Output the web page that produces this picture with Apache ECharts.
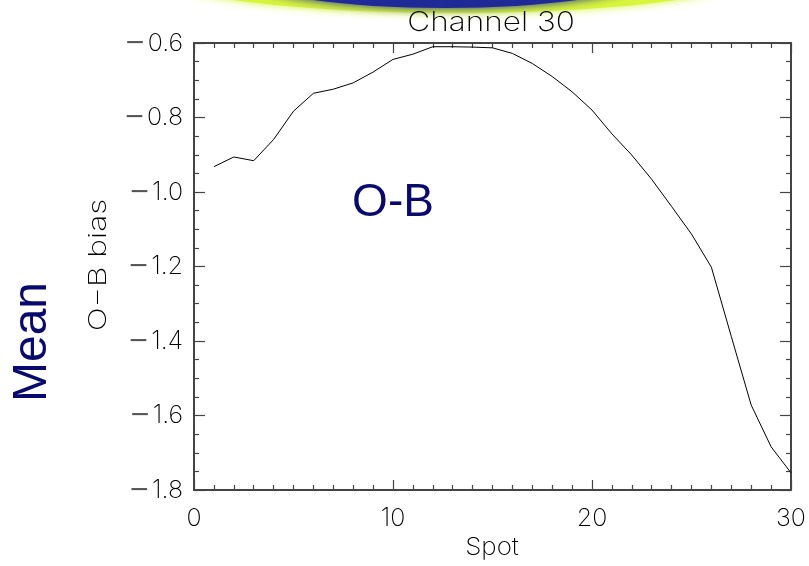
<!DOCTYPE html>
<html>
<head>
<meta charset="utf-8">
<script src="https://cdn.jsdelivr.net/npm/echarts@6/dist/echarts.min.js"></script>
<style>
html,body{margin:0;padding:0;background:#fff;}
#c{width:809px;height:566px;}
</style>
</head>
<body>
<div id="c"></div>
<script>
// Data
const spots = [1,2,3,4,5,6,7,8,9,10,11,12,13,14,15,16,17,18,19,20,21,22,23,24,25,26,27,28,29,30];
const meanBias = [-0.932,-0.906,-0.916,-0.859,-0.783,-0.735,-0.724,-0.707,-0.678,-0.644,-0.630,-0.610,-0.610,-0.611,-0.613,-0.628,-0.655,-0.690,-0.731,-0.780,-0.844,-0.901,-0.966,-1.039,-1.113,-1.202,-1.388,-1.572,-1.684,-1.754];
const yTicks = [-1.8,-1.6,-1.4,-1.2,-1.0,-0.8,-0.6];
const xTicks = [0,10,20,30];
const titleText = 'Channel 30';
const xName = 'Spot';
const yName = 'O\u2212B bias';

const chart = echarts.init(document.getElementById('c'), null, {renderer:'canvas'});
const thinFont = 'Inter';
const thinW = 200;
const axisCol = '#444';
const tickStyle = {color:axisCol, width:1.2};

function fmtY(v){ const s = Math.abs(v).toFixed(1); return (v<0?'{m|\u2212}':'')+'{n|'+s+'}'; }

const baseX = {
  type:'value', min:0, max:30, interval:10,
  axisLine:{show:true, onZero:false, lineStyle:{color:axisCol, width:2}},
  axisTick:{show:true, inside:true, length:10, lineStyle:tickStyle},
  minorTick:{show:true, splitNumber:10, length:5, lineStyle:tickStyle},
  splitLine:{show:false}
};
const baseY = {
  type:'value', min:-1.8, max:-0.6, interval:0.2,
  axisLine:{show:true, onZero:false, lineStyle:{color:axisCol, width:2}},
  axisTick:{show:true, inside:true, length:11, lineStyle:tickStyle},
  minorTick:{show:true, splitNumber:4, length:5, lineStyle:tickStyle},
  splitLine:{show:false}
};

const option = {
  backgroundColor:'#fff',
  animation:false,
  grid:{left:194, right:18, top:43, bottom:76, containLabel:false},
  xAxis:[
    Object.assign({}, baseX, {position:'bottom',
      axisLabel:{show:true, margin:16, color:'#000', fontFamily:thinFont, fontWeight:thinW, fontSize:25,
        formatter:v=> xTicks.includes(v)? String(v):''}}),
    Object.assign({}, baseX, {position:'top', axisLabel:{show:false}})
  ],
  yAxis:[
    Object.assign({}, baseY, {position:'left',
      axisLabel:{show:true, margin:11, color:'#000', fontFamily:thinFont, fontWeight:thinW, fontSize:25,
        formatter:v=>fmtY(v),
        rich:{
          m:{fontFamily:'DejaVu Sans', fontSize:25, color:'#555', fontWeight:'normal', padding:[0,2,0,0]},
          n:{fontFamily:thinFont, fontSize:25, fontWeight:thinW, color:'#000'}
        }}}),
    Object.assign({}, baseY, {position:'right', axisLabel:{show:false}})
  ],
  series:[{
    type:'line', xAxisIndex:0, yAxisIndex:0,
    data: spots.map((s,i)=>[s, meanBias[i]]),
    symbol:'none', lineStyle:{color:'#000', width:1}
  }],
  graphic:[
    {type:'ellipse', z:-1, shape:{cx:455, cy:-27, rx:300, ry:40},
      style:{fill:'#d8f53c', shadowBlur:8, shadowColor:'#d8f53c'}},
    {type:'ellipse', z:-1, shape:{cx:445, cy:-30, rx:215, ry:38},
      style:{fill:'#1f2a96', shadowBlur:10, shadowColor:'#1f2a96'}},
    {type:'text', x:491, y:23, scaleX:1.17, style:{text:titleText, fill:'#000', font:'200 27px "Inter"', align:'center', verticalAlign:'middle'}},
    {type:'text', x:492, y:548, scaleX:1.08, style:{text:xName, fill:'#000', font:'200 24px "Inter"', align:'center', verticalAlign:'middle'}},
    {type:'text', x:99, y:265, rotation:Math.PI/2, scaleX:1.32, style:{text:yName, fill:'#000', font:'200 24px "Inter"', align:'center', verticalAlign:'middle'}},
    {type:'text', x:33, y:342, rotation:Math.PI/2, style:{text:'Mean', fill:'#0a0a6e', font:'48px "Liberation Sans"', align:'center', verticalAlign:'middle'}},
    {type:'text', x:393, y:203, style:{text:'O-B', fill:'#0a0a6e', font:'46px "Liberation Sans"', align:'center', verticalAlign:'middle'}}
  ]
};
chart.setOption(option);
</script>
</body>
</html>
